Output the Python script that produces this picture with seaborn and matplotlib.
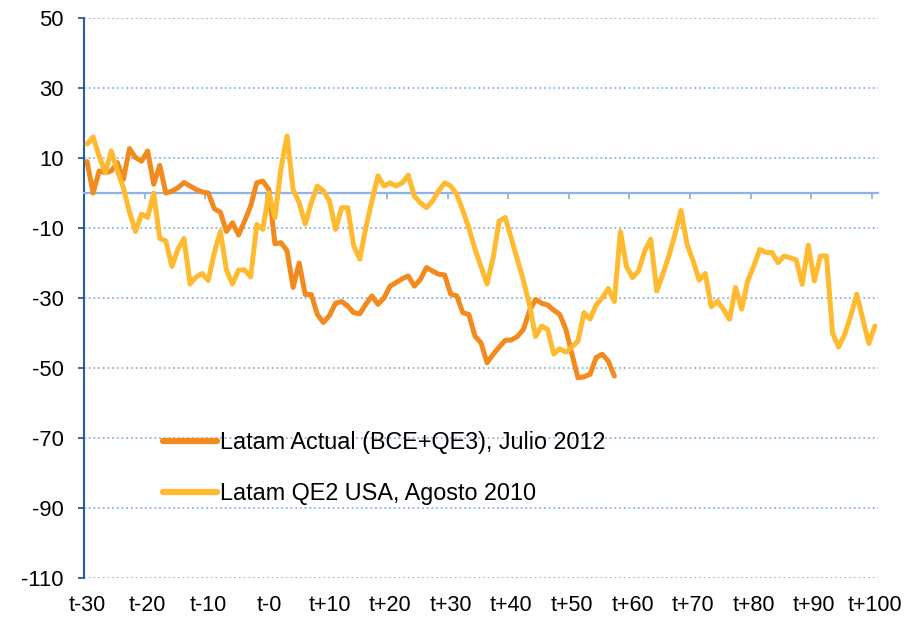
import matplotlib
matplotlib.use("Agg")
import matplotlib.pyplot as plt
import numpy as np
import pandas as pd
import seaborn as sns

# ---------------- data ----------------
label_actual = "Latam Actual (BCE+QE3), Julio 2012"
label_qe2 = "Latam QE2 USA, Agosto 2010"

t_actual = list(range(-30, 58))
actual = [
    9, 0, 6.3, 5.8, 6.3, 8.7, 3.9, 12.7, 10.1, 9.1,
    12, 2.5, 7.9, 0, 0.5, 1.5, 3, 2, 1, 0.3,
    0, -4.5, -5.5, -11, -8.5, -12, -8, -3.7, 2.9, 3.4,
    1, -14.5, -14.2, -16.5, -27, -20, -29, -29, -34.7, -37,
    -35, -31.5, -31, -32.3, -34.2, -34.5, -31.8, -29.4, -31.8, -30,
    -26.6, -25.6, -24.5, -23.7, -26.6, -24.7, -21.3, -22.3, -23.2, -23.4,
    -28.9, -29.4, -34.2, -34.7, -40.9, -42.8, -48.5, -46.1, -44, -42.1,
    -42, -41, -39, -33.7, -30.4, -31.5, -32, -33.5, -34.7, -39,
    -46, -52.8, -52.5, -51.8, -47, -46.1, -48, -52.3,
]

t_qe2 = list(range(-30, 101))
qe2 = [
    14, 16, 10.5, 5.8, 12, 6.3, 1.5, -5.5, -11, -6,
    -7, 0, -13, -13.7, -21, -16, -13, -26, -24, -23,
    -25, -17, -11, -22, -26, -22, -22, -24, -9, -10.4,
    0, -7, 7, 16.3, 1, -2.8, -8.9, -2.8, 2, 0.6,
    -2.3, -10.4, -4.2, -4.2, -15.1, -18.9, -9.9, -2.3, 4.9, 2,
    2.9, 2, 2.9, 5.1, -0.9, -2.8, -4.2, -2.3, 0.6, 2.9,
    2, -0.4, -5, -10, -16, -21, -26, -18.5, -8, -7,
    -13, -19, -25, -32, -41, -38, -39, -46, -44.5, -45.5,
    -44, -42.3, -34.2, -36, -32, -30, -27.3, -31, -11, -21,
    -24.2, -22.3, -16.6, -13.2, -28, -23.2, -18, -11.8, -5, -14.7,
    -19.4, -24.9, -23, -32.5, -30.9, -33.2, -36.1, -27, -33.2, -25.1,
    -20.9, -16.1, -17, -17, -19.9, -18, -18.5, -19.1, -26.1, -14.9,
    -25.1, -18, -18, -40, -44, -40.4, -35.1, -28.9, -36.1, -43,
    -38,
]

x_tick_pos = list(range(-30, 101, 10))
x_tick_labels = ["t-30", "t-20", "t-10", "t-0", "t+10", "t+20", "t+30",
                 "t+40", "t+50", "t+60", "t+70", "t+80", "t+90", "t+100"]
y_ticks = list(range(-110, 51, 20))

# ---------------- style ----------------
sns.set_style("white")
plt.rcParams["font.family"] = ["Liberation Sans", "DejaVu Sans"]
plt.rcParams["axes.unicode_minus"] = False
plt.rcParams["text.color"] = "black"
plt.rcParams["xtick.labelcolor"] = "black"
plt.rcParams["ytick.labelcolor"] = "black"

c_orange = "#F28A1E"
c_yellow = "#FFBA2F"
c_axis = "#2B5AA5"
c_light = "#8DB4E2"

df = pd.concat([
    pd.DataFrame({"t": t_actual, "v": actual, "serie": label_actual}),
    pd.DataFrame({"t": t_qe2, "v": qe2, "serie": label_qe2}),
], ignore_index=True)

fig = plt.figure(figsize=(9.24, 6.17), dpi=100)
ax = fig.add_axes([84 / 924, 1 - 578 / 617, (878 - 84) / 924, (578 - 18) / 617])

sns.lineplot(data=df, x="t", y="v", hue="serie",
             hue_order=[label_actual, label_qe2],
             palette={label_actual: c_orange, label_qe2: c_yellow},
             estimator=None, sort=False, linewidth=3.6, ax=ax, zorder=3,
             solid_joinstyle="round", solid_capstyle="round")

ax.set_xlim(-30.5, 100.5)
ax.set_ylim(-110, 50)
ax.set_xlabel("")
ax.set_ylabel("")

# spines
for s in ("top", "right"):
    ax.spines[s].set_visible(False)
ax.spines["left"].set_color(c_axis)
ax.spines["left"].set_linewidth(1.5)
ax.spines["bottom"].set_position(("data", 0))
ax.spines["bottom"].set_color(c_light)
ax.spines["bottom"].set_linewidth(1.6)

# x ticks on the zero line (between categories), no labels
ax.set_xticks([p - 0.5 for p in x_tick_pos])
ax.tick_params(axis="x", direction="out", length=4, width=1.3,
               color=c_light, labelbottom=False, bottom=True)

# category labels at the bottom of the plot
sec = ax.secondary_xaxis("bottom")
sec.set_xticks(x_tick_pos, labels=x_tick_labels)
sec.tick_params(length=0, pad=12, labelsize=15.5, labelcolor="black")
sec.spines["bottom"].set_visible(False)
sec.set_xlabel("")

# y axis
ax.set_yticks(y_ticks)
ax.tick_params(axis="y", direction="out", length=4.5, width=1.3,
               color=c_axis, pad=10, labelsize=15.8, left=True,
               labelcolor="black")
ax.grid(axis="y", linestyle=(0, (1, 1.6)), color=c_light, linewidth=1.3)
ax.grid(axis="x", visible=False)
ax.set_axisbelow(True)

# legend
handles, labels = ax.get_legend_handles_labels()
leg = ax.legend(handles, labels, loc="center left", bbox_to_anchor=(0.0995, 0.196),
                frameon=False, fontsize=16.8, handlelength=2.3,
                handletextpad=0.15, labelspacing=1.22, borderpad=0,
                borderaxespad=0)
for txt in leg.get_texts():
    txt.set_color("black")
for lh in leg.get_lines():
    lh.set_linewidth(4.5)
    lh.set_solid_capstyle("round")

fig.savefig("out.png", dpi=100)
